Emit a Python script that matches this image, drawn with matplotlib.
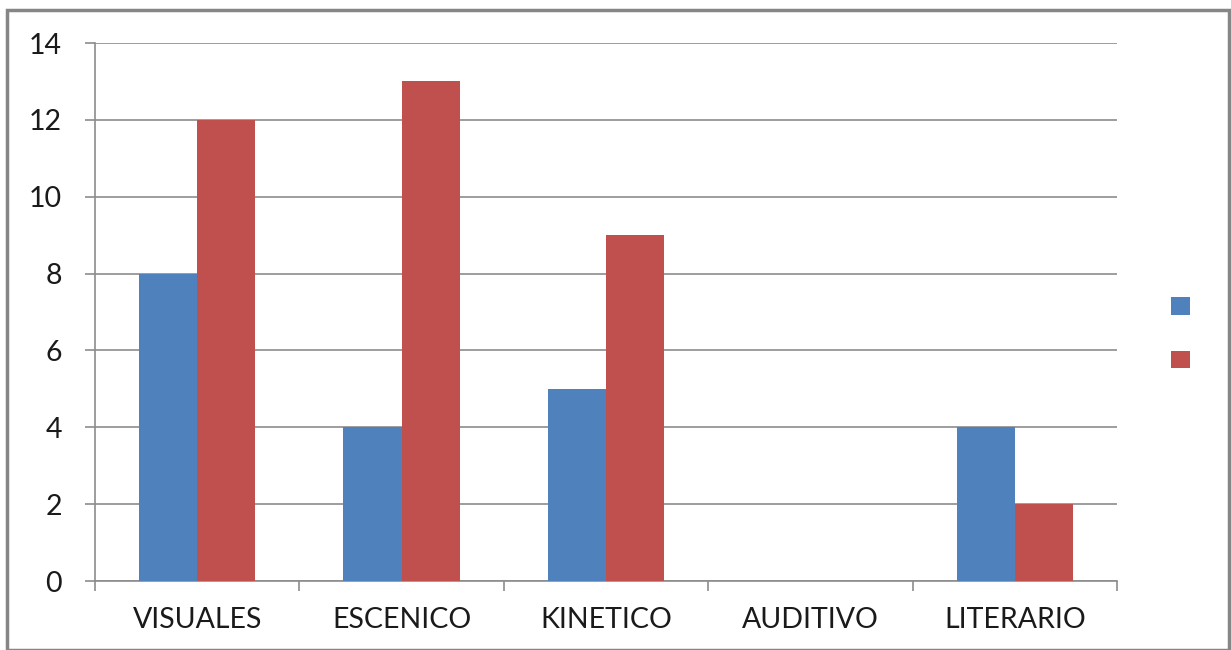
import matplotlib
matplotlib.use("Agg")
import matplotlib.pyplot as plt
from matplotlib.patches import Rectangle
import numpy as np

categories = ["VISUALES", "ESCENICO", "KINETICO", "AUDITIVO", "LITERARIO"]
series1 = [8, 4, 5, 0, 4]
series2 = [12, 13, 9, 0, 2]
yticks = [0, 2, 4, 6, 8, 10, 12, 14]

blue = "#4F81BD"
red = "#C0504D"
grid_c = "#8C8C8C"

plt.rcParams['font.family'] = ['Lato', 'DejaVu Sans']

W, H = 1231, 650
fig = plt.figure(figsize=(W/100, H/100), dpi=100)
ax = fig.add_axes([95/W, 1-581/H, (1117-95)/W, (581-43)/H])

x = np.arange(len(categories))
bw = 0.285
ax.bar(x - bw/2, series1, width=bw, color=blue, label=" ", zorder=3)
ax.bar(x + bw/2, series2, width=bw, color=red, label=" ", zorder=3)

ax.set_xlim(-0.5, len(categories) - 0.5)
ax.set_ylim(0, 14)
ax.set_yticks(yticks)
ax.set_yticklabels([str(v) for v in yticks], fontsize=20.5, color="#1a1a1a")
ax.yaxis.grid(True, color=grid_c, linewidth=1.2, zorder=0)
ax.set_axisbelow(True)

ax.set_xticks(x)
ax.set_xticklabels(categories, fontsize=20.5, color="#1a1a1a")
ax.tick_params(axis='x', length=0, pad=19)
ax.set_xticks(np.arange(-0.5, len(categories)), minor=True)
ax.tick_params(axis='x', which='minor', length=7.2, color=grid_c, width=1.2)
ax.tick_params(axis='y', length=7.2, color=grid_c, width=1.2, pad=16.5)

for s in ['top', 'right']:
    ax.spines[s].set_visible(False)
for s in ['left', 'bottom']:
    ax.spines[s].set_color(grid_c)
    ax.spines[s].set_linewidth(1.2)

# legend with empty labels (squares only)
fig.legend(handles=ax.patches[:1] + ax.patches[5:6], labels=["", ""],
           loc='upper left', bbox_to_anchor=(1171/W, 1-297/H),
           frameon=False, handlelength=1.0, handleheight=1.08,
           labelspacing=1.88, fontsize=13.5, handletextpad=0, borderpad=0,
           borderaxespad=0)

# figure border
fig.patches.append(Rectangle((7/W, 0), (1229-7)/W, 1-10/H, transform=fig.transFigure,
                             fill=False, edgecolor="#868686", linewidth=2.5))

fig.savefig("out.png", dpi=100)
